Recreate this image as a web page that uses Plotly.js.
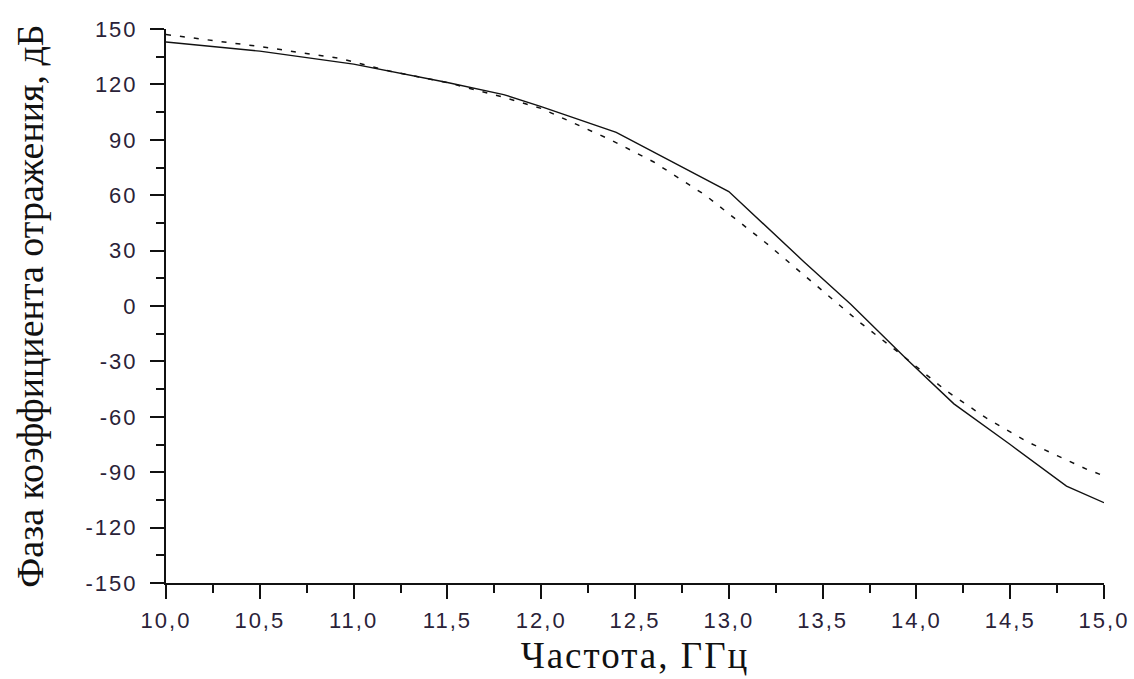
<!DOCTYPE html>
<html>
<head>
<meta charset="utf-8">
<script src="https://cdn.plot.ly/plotly-3.0.1.min.js"></script>
<style>
  html, body { margin: 0; padding: 0; background: #fff; }
  #chart { width: 1134px; height: 679px; }
  .xtick text, .ytick text { letter-spacing: 2px; }
  .g-xtitle text { letter-spacing: 2px; }
</style>
</head>
<body>
<div id="chart"></div>
<script>
// Frequency (GHz) and phase (deg) — solid curve
var freqSolid  = [10.0, 10.5, 11.0, 11.5, 11.8, 12.0, 12.4, 13.0, 13.4, 13.65, 13.95, 14.2, 14.5, 14.8, 15.0];
var phaseSolid = [143, 138, 131, 121, 114.5, 108, 94, 62, 24, 1, -29, -53, -75, -97.5, -106.5];

// Dashed curve
var freqDashed  = [10.0, 10.5, 10.93, 11.2, 11.5, 11.8, 12.0, 12.37, 12.6, 12.875, 13.2, 13.46, 13.7, 13.91, 14.16, 14.37, 14.59, 14.75, 14.91, 15.0];
var phaseDashed = [147, 140.5, 134, 127, 121, 113, 107, 90, 78, 60, 34, 11.5, -9, -25.5, -46, -60.5, -73.5, -81, -88.5, -92];

// Tick labels
var xTickVals = [10.0, 10.5, 11.0, 11.5, 12.0, 12.5, 13.0, 13.5, 14.0, 14.5, 15.0];
var xTickText = ["10,0", "10,5", "11,0", "11,5", "12,0", "12,5", "13,0", "13,5", "14,0", "14,5", "15,0"];
var yTickVals = [-150, -120, -90, -60, -30, 0, 30, 60, 90, 120, 150];
var yTickText = ["-150", "-120", "-90", "-60", "-30", "0", "30", "60", "90", "120", "150"];

var xTitle = "Частота, ГГц";
var yTitle = "Фаза коэффициента отражения, дБ";

var traces = [
  {
    x: freqSolid, y: phaseSolid, mode: "lines", type: "scatter",
    line: { color: "#111", width: 1.4, dash: "solid" },
    showlegend: false, hoverinfo: "skip"
  },
  {
    x: freqDashed, y: phaseDashed, mode: "lines", type: "scatter",
    line: { color: "#111", width: 1.5, dash: "5px,9px" },
    showlegend: false, hoverinfo: "skip"
  }
];

var tickFont = { family: "Liberation Sans, Arial, sans-serif", size: 22, color: "#2a2238" };

var layout = {
  width: 1134, height: 679,
  margin: { l: 166, r: 30, t: 29, b: 96, pad: 0 },
  paper_bgcolor: "#fff", plot_bgcolor: "#fff",
  showlegend: false,
  xaxis: {
    range: [10, 15],
    tickmode: "array", tickvals: xTickVals, ticktext: xTickText,
    ticks: "outside", ticklen: 14, tickwidth: 2, tickcolor: "#111",
    minor: { tickmode: "linear", tick0: 10, dtick: 0.25, ticks: "outside", ticklen: 8, tickwidth: 2, tickcolor: "#111", showgrid: false },
    showline: true, linecolor: "#111", linewidth: 2,
    showgrid: false, zeroline: false,
    tickfont: tickFont,
    ticklabelstandoff: 3,
    title: { text: xTitle, font: { family: "Liberation Serif, Times New Roman, serif", size: 37, color: "#111" }, standoff: 10 }
  },
  yaxis: {
    range: [-150, 150],
    tickmode: "array", tickvals: yTickVals, ticktext: yTickText,
    ticks: "outside", ticklen: 14, tickwidth: 2, tickcolor: "#111",
    minor: { tickmode: "linear", tick0: -150, dtick: 15, ticks: "outside", ticklen: 8, tickwidth: 2, tickcolor: "#111", showgrid: false },
    showline: true, linecolor: "#111", linewidth: 2,
    showgrid: false, zeroline: false,
    tickfont: tickFont,
    ticklabelstandoff: 8,
    title: { text: yTitle, font: { family: "Liberation Serif, Times New Roman, serif", size: 38, color: "#111" }, standoff: 30 }
  }
};

Plotly.newPlot("chart", traces, layout, { staticPlot: true, displayModeBar: false });
</script>
</body>
</html>
